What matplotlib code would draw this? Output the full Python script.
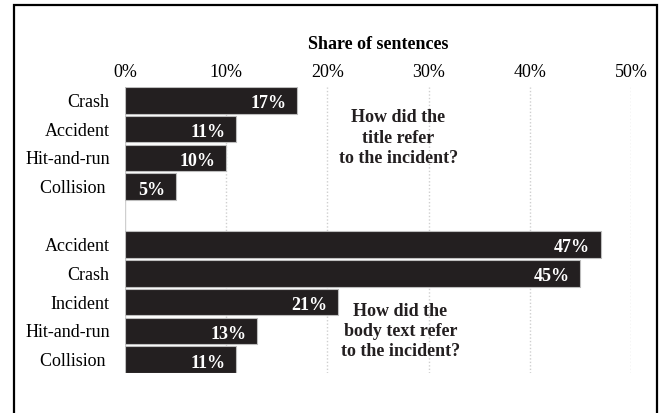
import matplotlib.pyplot as plt
from matplotlib.patches import Rectangle

# title group and body group
title_terms = ["Crash", "Accident", "Hit-and-run", "Collision "]
title_share = [17, 11, 10, 5]
body_terms = ["Accident", "Crash", "Incident", "Hit-and-run", "Collision "]
body_share = [47, 45, 21, 13, 11]
tick_vals = [0, 10, 20, 30, 40, 50]

plt.rcParams["font.family"] = ["Liberation Serif", "DejaVu Serif"]
plt.rcParams["font.size"] = 13

W, H = 659, 413
fig = plt.figure(figsize=(W / 100, H / 100), dpi=100)
ax = fig.add_axes([125 / W, 1 - 373 / H, 506 / W, 286 / H])

# second group sits one empty row below the first
ypos_title = list(range(len(title_terms)))
ypos_body = [len(title_terms) + 1 + i for i in range(len(body_terms))]
ypos = ypos_title + ypos_body
labels = title_terms + body_terms
shares = title_share + body_share

ax.barh(ypos, shares, height=0.92, color="#231f20", edgecolor="#bdbdbd",
        linewidth=0.8, zorder=3)
for y, v in zip(ypos, shares):
    ax.annotate(f"{v}%", (v, y), xytext=(-7.5, -1), textcoords="offset points",
                ha="right", va="center_baseline", color="white",
                fontweight="bold", zorder=4)

ax.set_xlim(0, 50)
ax.set_ylim(max(ypos) + 0.46, -0.46)
ax.set_yticks(ypos)
ax.set_yticklabels(labels, va="center_baseline")
ax.set_xticks(tick_vals)
ax.set_xticklabels([f"{t}%" for t in tick_vals])
ax.xaxis.tick_top()
ax.xaxis.set_label_position("top")
ax.set_xlabel("Share of sentences", fontweight="bold", labelpad=11)
ax.tick_params(axis="x", length=0, pad=4)
ax.tick_params(axis="y", length=0, pad=11)
for s in ax.spines.values():
    s.set_visible(False)

for t in tick_vals[1:]:
    ax.axvline(t, color="#cfcfcf", linestyle=(0, (1, 1.5)), linewidth=1, zorder=1)
ax.axvline(0, color="#cfcfcf", linewidth=1, zorder=2)

ax.text(27, 1.31, "How did the\ntitle refer\nto the incident?", ha="center",
        va="center", fontweight="bold", color="#231f20", linespacing=1.25)
ax.text(27.2, 8.02, "How did the\nbody text refer\nto the incident?", ha="center",
        va="center", fontweight="bold", color="#231f20", linespacing=1.25)

# outer frame
fig.patches.append(Rectangle((14 / W, -0.05), 643 / W, 1.05 - 5 / H,
                             transform=fig.transFigure, fill=False,
                             edgecolor="black", linewidth=1.6))

fig.savefig("out.png", dpi=100)
